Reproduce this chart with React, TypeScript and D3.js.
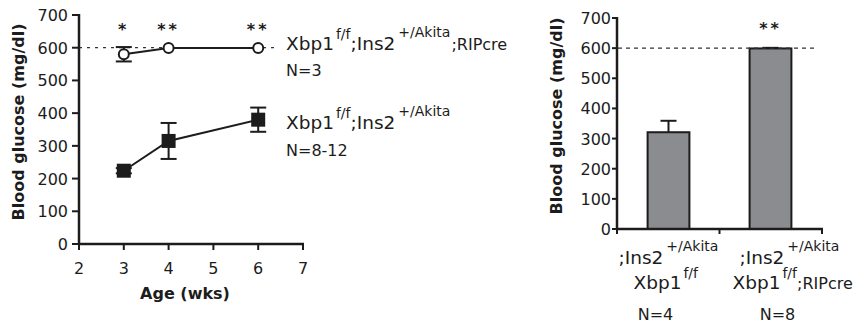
import React from "react";
import * as d3 from "d3";

const weeks = [3, 4, 6];
const creMean = [580, 599, 599];
const creErr = [22, 0, 0];
const akitaMean = [224, 315, 380];
const akitaErr = [8, 55, 37];
const weekStars = ["*", "**", "**"];

const barGroups = ["akita", "akitaCre"];
const barMeans = [321, 599];
const barErr = [38, 2];
const barStars = ["", "**"];
const barN = ["N=4", "N=8"];

const ageTicks = [2, 3, 4, 5, 6, 7];
const glucoseTicks = [0, 100, 200, 300, 400, 500, 600, 700];
const threshold = 600;

const FONT = "'DejaVu Sans', Verdana, sans-serif";
const INK = "#1c1c1c";
const MAIN = 18.5;
const SUP = 14;
const SUB = 16;

export default function App() {
  const x = d3.scaleLinear().domain([2, 7]).range([79, 303]);
  const y = d3.scaleLinear().domain([0, 700]).range([244, 15]);
  const xb = d3.scaleBand<string>().domain(barGroups).range([617, 822]).paddingInner(0.59).paddingOuter(0.3);
  const yb = d3.scaleLinear().domain([0, 700]).range([229, 18]);

  const line = d3.line<number>().x((_, i) => x(weeks[i])).y((d) => y(d));
  const cap = 8;

  return (
    <svg width={853} height={324} style={{ position: "absolute", left: 0, top: 0 }} fontFamily={FONT}>
      <rect width={853} height={324} fill="#fff" />
      {/* ---------- Left chart ---------- */}
      <line x1={x(2)} x2={278} y1={y(threshold)} y2={y(threshold)} stroke="#333" strokeWidth={1.2} strokeDasharray="3,5" />
      {/* axes */}
      <line x1={x(2)} x2={x(2)} y1={y(700) - 1} y2={y(0) + 1} stroke={INK} strokeWidth={2.5} />
      <line x1={x(2) - 1} x2={x(7) + 1} y1={y(0)} y2={y(0)} stroke={INK} strokeWidth={2.5} />
      {glucoseTicks.map((t) => (
        <g key={"ly" + t}>
          <line x1={x(2) - 7} x2={x(2)} y1={y(t)} y2={y(t)} stroke={INK} strokeWidth={2} />
          <text x={x(2) - 11} y={y(t) + 6} fontSize={16} textAnchor="end" fill={INK}>{t}</text>
        </g>
      ))}
      {ageTicks.map((t) => (
        <g key={"lx" + t}>
          <line x1={x(t)} x2={x(t)} y1={y(0)} y2={y(0) + 6} stroke={INK} strokeWidth={2} />
          <text x={x(t)} y={274} fontSize={16} textAnchor="middle" fill={INK}>{t}</text>
        </g>
      ))}
      <text x={185} y={299} fontSize={16} fontWeight="bold" textAnchor="middle" fill={INK}>Age (wks)</text>
      <text transform={`translate(24,122) rotate(-90)`} fontSize={16} fontWeight="bold" textAnchor="middle" fill={INK}>Blood glucose (mg/dl)</text>

      {/* Akita series (squares) */}
      {weeks.map((w, i) => (
        <g key={"ae" + i} stroke={INK} strokeWidth={2}>
          <line x1={x(w)} x2={x(w)} y1={y(akitaMean[i] - akitaErr[i])} y2={y(akitaMean[i] + akitaErr[i])} />
          <line x1={x(w) - cap} x2={x(w) + cap} y1={y(akitaMean[i] + akitaErr[i])} y2={y(akitaMean[i] + akitaErr[i])} />
          <line x1={x(w) - cap} x2={x(w) + cap} y1={y(akitaMean[i] - akitaErr[i])} y2={y(akitaMean[i] - akitaErr[i])} />
        </g>
      ))}
      <path d={line(akitaMean) || ""} fill="none" stroke={INK} strokeWidth={2} />
      {weeks.map((w, i) => (
        <rect key={"as" + i} x={x(w) - 7} y={y(akitaMean[i]) - 7} width={14} height={14} fill={INK} />
      ))}

      {/* Cre series (circles) */}
      {weeks.map((w, i) =>
        creErr[i] > 0 ? (
          <g key={"ce" + i} stroke={INK} strokeWidth={2}>
            <line x1={x(w)} x2={x(w)} y1={y(creMean[i] - creErr[i])} y2={y(creMean[i] + creErr[i])} />
            <line x1={x(w) - cap} x2={x(w) + cap} y1={y(creMean[i] + creErr[i])} y2={y(creMean[i] + creErr[i])} />
            <line x1={x(w) - cap} x2={x(w) + cap} y1={y(creMean[i] - creErr[i])} y2={y(creMean[i] - creErr[i])} />
          </g>
        ) : null
      )}
      <path d={line(creMean) || ""} fill="none" stroke={INK} strokeWidth={2} />
      {weeks.map((w, i) => (
        <circle key={"cc" + i} cx={x(w)} cy={y(creMean[i])} r={5} fill="#fff" stroke={INK} strokeWidth={2} />
      ))}
      {weeks.map((w, i) => (
        <text key={"st" + i} x={x(w)} y={35} fontSize={16} fontWeight="bold" textAnchor="middle" letterSpacing={3} fill={INK}>{weekStars[i]}</text>
      ))}

      {/* legend */}
      <text x={286} y={50} fontSize={MAIN} fill={INK}>
        Xbp1<tspan dx={2} dy={-11} fontSize={SUP}>f/f</tspan>
        <tspan dy={11}>;Ins2</tspan>
        <tspan dx={3} dy={-13} fontSize={SUP}>+/Akita</tspan>
        <tspan dx={1} dy={13} fontSize={SUB}>;RIPcre</tspan>
      </text>
      <text x={286} y={76} fontSize={16} fill={INK}>N=3</text>
      <text x={286} y={129} fontSize={MAIN} fill={INK}>
        Xbp1<tspan dx={2} dy={-11} fontSize={SUP}>f/f</tspan>
        <tspan dy={11}>;Ins2</tspan>
        <tspan dx={3} dy={-13} fontSize={SUP}>+/Akita</tspan>
      </text>
      <text x={286} y={156} fontSize={16} fill={INK}>N=8-12</text>

      {/* ---------- Right chart ---------- */}
      {barGroups.map((g, i) => {
        const cx = (xb(g) || 0) + xb.bandwidth() / 2;
        return (
          <g key={"bar" + g}>
            <line x1={cx} x2={cx} y1={yb(barMeans[i])} y2={yb(barMeans[i] + barErr[i])} stroke={INK} strokeWidth={2} />
            <line x1={cx - cap} x2={cx + cap} y1={yb(barMeans[i] + barErr[i])} y2={yb(barMeans[i] + barErr[i])} stroke={INK} strokeWidth={2} />
            <rect x={xb(g)} y={yb(barMeans[i])} width={xb.bandwidth()} height={yb(0) - yb(barMeans[i])} fill="#8b8c8f" stroke={INK} strokeWidth={2} />
            <text x={cx} y={34} fontSize={16} fontWeight="bold" textAnchor="middle" letterSpacing={3} fill={INK}>{barStars[i]}</text>
          </g>
        );
      })}
      <line x1={618} x2={817} y1={yb(threshold)} y2={yb(threshold)} stroke="#333" strokeWidth={1.2} strokeDasharray="4,4" />
      <line x1={617} x2={617} y1={yb(700) - 1} y2={yb(0) + 1} stroke={INK} strokeWidth={2.5} />
      <line x1={616} x2={823} y1={yb(0)} y2={yb(0)} stroke={INK} strokeWidth={2.5} />
      {[xb.range()[0], (xb.range()[0] + xb.range()[1]) / 2, xb.range()[1]].map((v) => (
        <line key={"t" + v} x1={v} x2={v} y1={yb(0)} y2={yb(0) + 5} stroke={INK} strokeWidth={2} />
      ))}
      {glucoseTicks.map((t) => (
        <g key={"ry" + t}>
          <line x1={612} x2={617} y1={yb(t)} y2={yb(t)} stroke={INK} strokeWidth={2} />
          <text x={611} y={yb(t) + 6} fontSize={16} textAnchor="end" fill={INK}>{t}</text>
        </g>
      ))}
      <text transform={`translate(562,116) rotate(-90)`} fontSize={16} fontWeight="bold" textAnchor="middle" fill={INK}>Blood glucose (mg/dl)</text>

      {/* bar labels */}
      {barGroups.map((g, i) => {
        const cx = (xb(g) || 0) + xb.bandwidth() / 2;
        const first = i === 0 ? -50 : -31;
        const second = i === 0 ? -35 : -38;
        const third = i === 0 ? -13 : 7;
        return (
          <g key={"lab" + g} fill={INK}>
            <text x={cx + first} y={264} fontSize={MAIN}>
              ;Ins2<tspan dx={3} dy={-13} fontSize={SUP}>+/Akita</tspan>
            </text>
            <text x={cx + second} y={289} fontSize={MAIN}>
              Xbp1<tspan dx={2} dy={-11} fontSize={SUP}>f/f</tspan>
              {i === 1 ? <tspan dy={11} fontSize={SUB}>;RIPcre</tspan> : null}
            </text>
            <text x={cx + third} y={320} fontSize={16} textAnchor="middle">{barN[i]}</text>
          </g>
        );
      })}
    </svg>
  );
}
